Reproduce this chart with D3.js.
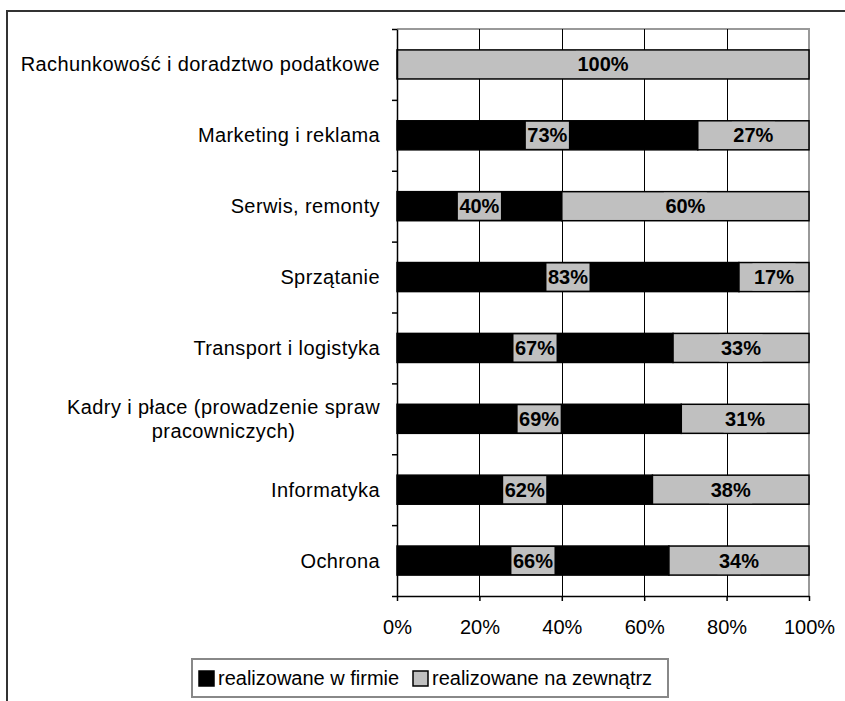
<!DOCTYPE html>
<html>
<head>
<meta charset="utf-8">
<script src="https://cdn.jsdelivr.net/npm/d3@7"></script>
<style>
  html, body { margin: 0; background: #fff; overflow: hidden; }
  svg { display: block; }
  text { font-family: "Liberation Sans", Arial, sans-serif; }
</style>
</head>
<body>
<svg width="845" height="701"></svg>
<script>
// data
let categories = ["Rachunkowość i doradztwo podatkowe", "Marketing i reklama", "Serwis, remonty", "Sprzątanie",
  "Transport i logistyka", "Kadry i płace (prowadzenie spraw pracowniczych)", "Informatyka", "Ochrona"];
let inHouse = [0, 73, 40, 83, 67, 69, 62, 66];
let outside = [100, 27, 60, 17, 33, 31, 38, 34];
let seriesNames = ["realizowane w firmie", "realizowane na zewnątrz"];
let xTicks = [0, 20, 40, 60, 80, 100];

let plotLeft = 397, plotRight = 809, plotTop = 29, plotBottom = 596;
let colors = ["#000000", "#c0c0c0"];

let svg = d3.select('svg');

// outer frame: only top and left edges are inside the picture
svg.append('path').attr('d', 'M7,701V11H845')
  .attr('fill', 'none').attr('stroke', '#333').attr('stroke-width', 2);

let x = d3.scaleLinear().domain([0, 100]).range([plotLeft, plotRight]);
let y = d3.scaleBand().domain(categories).range([plotTop, plotBottom]).paddingInner(0.59).paddingOuter(0.295);

// plot border top / right
svg.append('path').attr('d', `M${plotLeft},${plotTop}H${plotRight}V${plotBottom}`)
  .attr('fill', 'none').attr('stroke', '#999').attr('stroke-width', 2);

// gridlines
svg.append('g').selectAll('line').data(xTicks.slice(1, -1)).join('line')
  .attr('x1', d => Math.round(x(d)) + 0.5).attr('x2', d => Math.round(x(d)) + 0.5)
  .attr('y1', plotTop).attr('y2', plotBottom)
  .attr('stroke', '#000').attr('stroke-width', 1);

// bars
let rows = categories.map((c, i) => ({ cat: c, segs: [
  { s: 0, x0: 0, x1: inHouse[i], v: inHouse[i] },
  { s: 1, x0: inHouse[i], x1: inHouse[i] + outside[i], v: outside[i] }
] }));

let rowG = svg.append('g').selectAll('g').data(rows).join('g')
  .attr('transform', d => `translate(0,${y(d.cat)})`);

let segs = rowG.selectAll('g.seg').data(d => d.segs.filter(s => s.v > 0)).join('g').attr('class', 'seg');

segs.append('rect')
  .attr('x', d => x(d.x0)).attr('y', 0)
  .attr('width', d => x(d.x1) - x(d.x0)).attr('height', y.bandwidth())
  .attr('fill', d => colors[d.s]).attr('stroke', '#000').attr('stroke-width', 1.5);

// value labels with grey background
segs.each(function (d) {
  let g = d3.select(this);
  let cx = (x(d.x0) + x(d.x1)) / 2;
  let bg = g.append('rect').attr('fill', '#c0c0c0');
  let t = g.append('text').attr('x', cx).attr('y', y.bandwidth() / 2 + 7)
    .attr('text-anchor', 'middle').attr('font-size', 20).attr('font-weight', 'bold')
    .attr('fill', '#000').text(d.v + '%');
  let w = t.node().getComputedTextLength();
  bg.attr('x', cx - w / 2 - 1.5).attr('y', 1).attr('width', w + 3).attr('height', y.bandwidth() - 2);
});

// y axis
let yTickScale = d3.scaleLinear().domain([0, categories.length]).range([plotTop, plotBottom]);
svg.append('g').attr('transform', `translate(${plotLeft},0)`)
  .call(d3.axisLeft(yTickScale).tickValues(d3.range(categories.length + 1)).tickFormat('').tickSize(5).tickSizeOuter(0))
  .call(g => g.selectAll('line, path').attr('stroke', '#000').attr('stroke-width', 1.5));

// category labels
svg.append('g').selectAll('text').data(categories).join('text')
  .attr('font-size', 20).attr('fill', '#000').attr('letter-spacing', 0.4)
  .each(function (d) {
    let t = d3.select(this);
    let cy = y(d) + y.bandwidth() / 2;
    if (d.startsWith('Kadry')) {
      let lines = ["Kadry i płace (prowadzenie spraw", "pracowniczych)"];
      let t1 = t.append('tspan').attr('x', 380).attr('y', cy - 5).attr('text-anchor', 'end').text(lines[0]);
      let w = t1.node().getComputedTextLength();
      t.append('tspan').attr('x', 380 - w / 2).attr('y', cy + 19).attr('text-anchor', 'middle').text(lines[1]);
    } else {
      t.attr('x', 380).attr('y', cy + 7).attr('text-anchor', 'end').text(d);
    }
  });

// x axis
svg.append('g').attr('transform', `translate(0,${plotBottom})`)
  .call(d3.axisBottom(x).tickValues(xTicks).tickFormat(d => d + '%').tickSize(5).tickSizeOuter(0))
  .call(g => g.selectAll('line, path').attr('stroke', '#000').attr('stroke-width', 1.5))
  .call(g => g.selectAll('text').attr('font-size', 20).attr('fill', '#000')
    .attr('font-family', '"Liberation Sans", Arial, sans-serif').attr('dy', null).attr('y', 38));

// legend
let lg = svg.append('g');
lg.append('rect').attr('x', 192).attr('y', 659).attr('width', 476).attr('height', 38)
  .attr('fill', '#fff').attr('stroke', '#888').attr('stroke-width', 2);
let legendX = [199, 413];
seriesNames.forEach((n, i) => {
  lg.append('rect').attr('x', legendX[i]).attr('y', 671).attr('width', 15).attr('height', 15)
    .attr('fill', colors[i]).attr('stroke', '#000').attr('stroke-width', 1.5);
  lg.append('text').attr('x', legendX[i] + 19).attr('y', 685).attr('font-size', 20).attr('fill', '#000').text(n);
});
</script>
</body>
</html>
